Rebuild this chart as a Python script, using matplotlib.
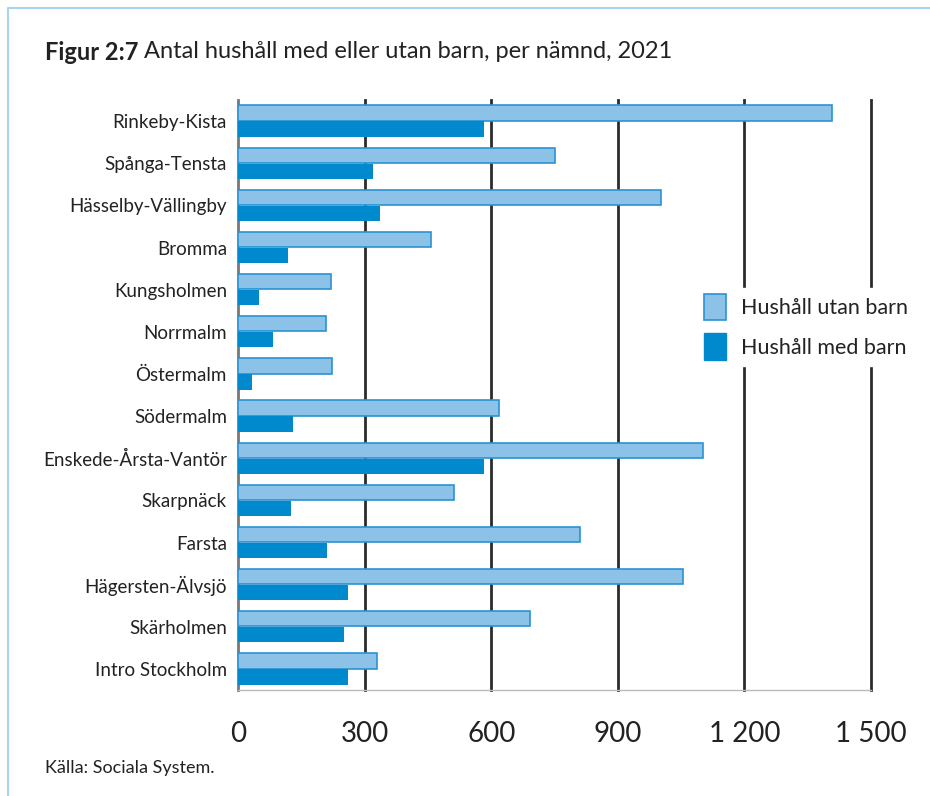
import numpy as np
import matplotlib
matplotlib.use("Agg")
from matplotlib import pyplot as plt
from matplotlib.patches import Patch

plt.rcParams["font.family"] = ["Lato", "DejaVu Sans"]

# data
districts = [
    "Rinkeby-Kista", "Spånga-Tensta", "Hässelby-Vällingby", "Bromma",
    "Kungsholmen", "Norrmalm", "Östermalm", "Södermalm",
    "Enskede-Årsta-Vantör", "Skarpnäck", "Farsta", "Hägersten-Älvsjö",
    "Skärholmen", "Intro Stockholm",
]
utan_barn = [1407, 751, 1002, 457, 220, 209, 223, 618, 1102, 512, 810, 1054, 692, 329]
med_barn = [583, 320, 336, 118, 50, 83, 33, 130, 583, 126, 211, 261, 251, 261]
xticks = [0, 300, 600, 900, 1200, 1500]
xticklabels = ["0", "300", "600", "900", "1 200", "1 500"]

LIGHT = "#8cc2e8"
LIGHT_EDGE = "#2a93d2"
DARK = "#0089cc"
TEXT = "#222222"

fig = plt.figure(figsize=(9.3, 7.96), dpi=100)
ax = fig.add_axes([238 / 930, 1 - 690 / 796, (871 - 238) / 930, 590 / 796])

y = np.arange(len(districts))
h = 0.36
ax.barh(y - 0.19, utan_barn, height=h, color=LIGHT, edgecolor=LIGHT_EDGE,
        linewidth=1.2, zorder=3)
ax.barh(y + 0.19, med_barn, height=h, color=DARK, linewidth=0, zorder=3)

ax.set_xlim(0, 1500)
ax.set_ylim(len(districts) - 0.5, -0.5)

# vertical grid lines
for x in xticks[1:]:
    ax.axvline(x, color="#2b2b2b", linewidth=2, zorder=1, clip_on=False)

ax.set_yticks(y)
ax.set_yticklabels(districts, fontsize=13.5, color=TEXT)
ax.set_xticks(xticks)
ax.set_xticklabels(xticklabels, fontsize=20, color=TEXT)
ax.tick_params(axis="both", length=0)
ax.tick_params(axis="x", pad=22)
ax.tick_params(axis="y", pad=8)

for side in ["top", "right"]:
    ax.spines[side].set_visible(False)
ax.spines["left"].set_color("#777777")
ax.spines["left"].set_linewidth(2)
ax.spines["bottom"].set_color("#bbbbbb")
ax.spines["bottom"].set_linewidth(1)

handles = [
    Patch(facecolor=LIGHT, edgecolor=LIGHT_EDGE, linewidth=1.2, label="Hushåll utan barn"),
    Patch(facecolor=DARK, edgecolor=DARK, label="Hushåll med barn"),
]
leg = fig.legend(handles=handles, loc="upper left",
                 bbox_to_anchor=(687 / 930, 1 - 277 / 796),
                 frameon=True, fontsize=15.5, handlelength=1.0, handleheight=1.5,
                 handletextpad=0.7, labelspacing=0.6, borderpad=0.3)
leg.get_frame().set_facecolor("white")
leg.get_frame().set_edgecolor("white")
leg.get_frame().set_alpha(1)
leg.set_zorder(10)
for t in leg.get_texts():
    t.set_color(TEXT)

# title: bold figure number then the plain title right after it
t1 = fig.text(45 / 930, 1 - 52 / 796, "Figur 2:7", fontsize=17, fontweight="bold",
              color=TEXT, va="center")
fig.canvas.draw()
bb = t1.get_window_extent().transformed(fig.transFigure.inverted())
fig.text(bb.x1 + 6 / 930, 1 - 52 / 796, "Antal hushåll med eller utan barn, per nämnd, 2021",
         fontsize=17, color=TEXT, va="center")
fig.text(45 / 930, 1 - 768 / 796, "Källa: Sociala System.", fontsize=13,
         color=TEXT, va="center")

# light blue frame, top and left
fig.add_artist(plt.Line2D([8 / 930, 8 / 930, 1], [0, 1 - 8 / 796, 1 - 8 / 796],
                          color="#a9d3ef", linewidth=1.5))

fig.savefig("out.png", dpi=100)
